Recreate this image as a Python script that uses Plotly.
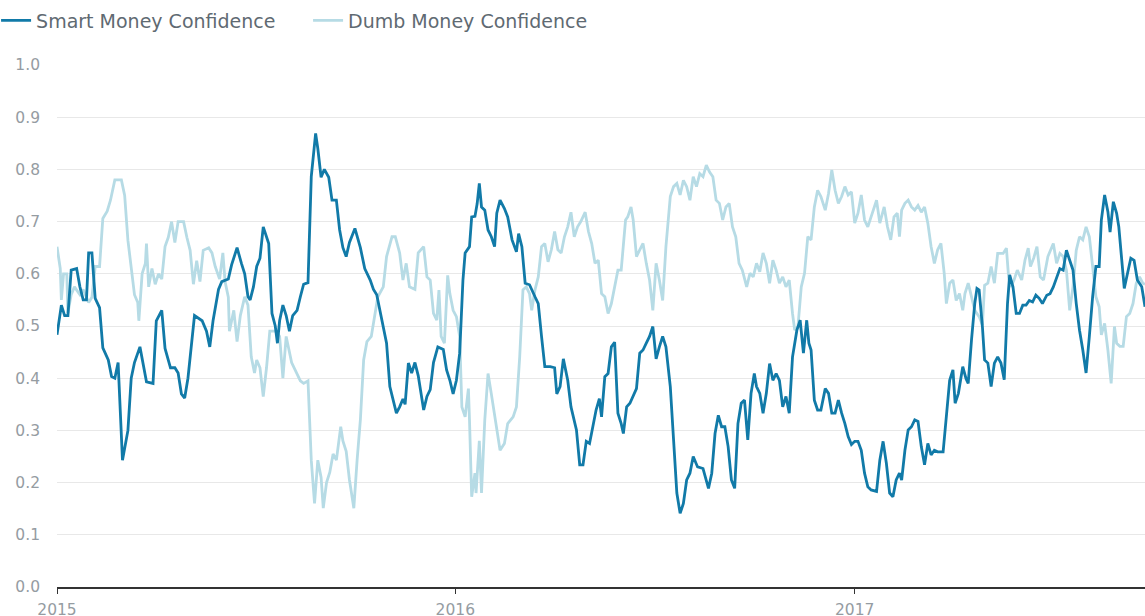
import pandas as pd
import plotly.graph_objects as go

START = pd.Timestamp("2015-01-01")

# Smart Money Confidence: days since 2015-01-01 and values
smart_days = [0, 4, 7, 10, 13, 18, 21, 24, 27, 29, 32, 35, 39, 42, 47, 50, 53, 56, 60, 65,
              68, 71, 76, 79, 82, 88, 91, 96, 99, 104, 108, 111, 114, 117, 120, 126, 133, 137, 140, 143,
              148, 151, 157, 160, 165, 169, 172, 175, 177, 180, 183, 186, 189, 194, 197, 200, 202, 204, 207, 210,
              213, 216, 220, 223, 226, 230, 232, 233, 237, 239, 242, 245, 249, 252, 256, 259, 262, 265, 268, 273,
              278, 282, 287, 290, 293, 297, 302, 305, 308, 311, 314, 317, 319, 322, 325, 328, 331, 336, 339, 342,
              345, 349, 354, 357, 360, 363, 366, 369, 372, 374, 378, 380, 383, 385, 387, 389, 392, 395, 398, 401,
              403, 406, 410, 413, 417, 421, 423, 426, 429, 433, 438, 441, 444, 447, 452, 456, 458, 461, 464, 468,
              471, 476, 479, 482, 485, 488, 491, 494, 497, 499, 502, 505, 508, 511, 514, 517, 519, 522, 525, 528,
              531, 534, 537, 540, 543, 546, 549, 552, 555, 558, 562, 565, 568, 571, 574, 577, 580, 583, 587, 592,
              597, 600, 603, 606, 609, 612, 615, 618, 621, 624, 627, 630, 633, 636, 639, 641, 644, 647, 650, 653,
              656, 659, 662, 665, 668, 671, 674, 678, 681, 684, 687, 689, 691, 694, 697, 700, 704, 707, 710, 713,
              716, 719, 722, 725, 728, 731, 734, 737, 740, 743, 746, 751, 754, 757, 760, 763, 766, 769, 772, 774,
              777, 780, 783, 786, 789, 792, 795, 798, 801, 804, 807, 812, 815, 818, 821, 823, 826, 830, 833, 835,
              838, 841, 843, 845, 848, 850, 853, 856, 859, 862, 865, 868, 871, 873, 876, 879, 882, 885, 888, 891,
              894, 897, 900, 903, 907, 910, 913, 916, 919, 922, 925, 928, 931, 934, 937, 940, 943, 946, 949, 952,
              955, 957, 960, 963, 965, 968, 971, 973, 975, 978, 981, 984, 987, 990, 994, 997]
smart_vals = [0.483, 0.54, 0.52, 0.52, 0.607, 0.61, 0.575, 0.55, 0.55, 0.64, 0.64, 0.553, 0.535, 0.458, 0.435, 0.403, 0.40, 0.43, 0.243, 0.30,
              0.40, 0.43, 0.46, 0.43, 0.393, 0.39, 0.51, 0.53, 0.457, 0.42, 0.42, 0.41, 0.37, 0.362, 0.40, 0.52, 0.51, 0.49, 0.46, 0.51,
              0.57, 0.585, 0.59, 0.617, 0.65, 0.62, 0.60, 0.556, 0.55, 0.575, 0.614, 0.63, 0.69, 0.658, 0.524, 0.50, 0.467, 0.51, 0.54, 0.52,
              0.49, 0.52, 0.53, 0.556, 0.58, 0.583, 0.722, 0.786, 0.869, 0.84, 0.785, 0.80, 0.785, 0.741, 0.741, 0.684, 0.65, 0.633, 0.66, 0.687,
              0.65, 0.61, 0.588, 0.57, 0.56, 0.52, 0.467, 0.384, 0.358, 0.333, 0.345, 0.36, 0.35, 0.429, 0.41, 0.43, 0.405, 0.339, 0.365, 0.378,
              0.43, 0.46, 0.455, 0.416, 0.396, 0.37, 0.396, 0.448, 0.588, 0.64, 0.652, 0.709, 0.71, 0.734, 0.773, 0.728, 0.722, 0.684, 0.671, 0.652,
              0.716, 0.741, 0.725, 0.709, 0.665, 0.642, 0.677, 0.652, 0.582, 0.579, 0.556, 0.543, 0.48, 0.422, 0.422, 0.42, 0.37, 0.384, 0.437, 0.396,
              0.345, 0.301, 0.234, 0.234, 0.279, 0.275, 0.307, 0.339, 0.361, 0.326, 0.403, 0.409, 0.46, 0.469, 0.333, 0.313, 0.294, 0.345, 0.352, 0.365,
              0.38, 0.448, 0.454, 0.467, 0.48, 0.499, 0.437, 0.46, 0.48, 0.46, 0.384, 0.282, 0.18, 0.141, 0.16, 0.205, 0.218, 0.25, 0.23, 0.227,
              0.189, 0.218, 0.294, 0.329, 0.307, 0.307, 0.269, 0.205, 0.189, 0.313, 0.352, 0.358, 0.282, 0.371, 0.409, 0.384, 0.371, 0.333, 0.371, 0.428,
              0.396, 0.409, 0.396, 0.345, 0.365, 0.333, 0.441, 0.492, 0.511, 0.448, 0.511, 0.467, 0.454, 0.358, 0.339, 0.339, 0.38, 0.371, 0.333, 0.333,
              0.358, 0.333, 0.313, 0.288, 0.273, 0.279, 0.279, 0.262, 0.218, 0.192, 0.186, 0.183, 0.243, 0.279, 0.237, 0.18, 0.173, 0.205, 0.218, 0.205,
              0.262, 0.301, 0.307, 0.32, 0.317, 0.269, 0.234, 0.275, 0.253, 0.262, 0.259, 0.259, 0.333, 0.396, 0.416, 0.352, 0.371, 0.422, 0.399, 0.39,
              0.473, 0.543, 0.572, 0.569, 0.499, 0.435, 0.429, 0.384, 0.429, 0.441, 0.429, 0.397, 0.543, 0.598, 0.575, 0.524, 0.524, 0.54, 0.54, 0.549,
              0.546, 0.559, 0.553, 0.543, 0.559, 0.562, 0.575, 0.591, 0.61, 0.607, 0.645, 0.626, 0.607, 0.543, 0.492, 0.454, 0.41, 0.48, 0.556, 0.614,
              0.614, 0.703, 0.751, 0.719, 0.68, 0.738, 0.716, 0.69, 0.639, 0.572, 0.601, 0.63, 0.626, 0.588, 0.575, 0.537]

# Dumb Money Confidence: days since 2015-01-01 and values
dumb_days = [0, 3, 4, 6, 9, 10, 13, 16, 21, 24, 29, 32, 35, 39, 42, 46, 49, 51, 53, 59,
             62, 65, 68, 71, 74, 75, 78, 81, 82, 84, 87, 90, 93, 96, 99, 102, 105, 108, 111, 116,
             119, 122, 125, 128, 131, 134, 139, 142, 145, 149, 152, 154, 157, 158, 162, 165, 168, 172, 175, 178,
             181, 183, 186, 189, 192, 195, 201, 204, 207, 210, 215, 220, 223, 226, 230, 233, 236, 239, 242, 244,
             247, 250, 253, 256, 260, 262, 265, 268, 272, 275, 278, 281, 284, 288, 291, 294, 299, 302, 307, 310,
             314, 317, 320, 323, 328, 331, 336, 339, 342, 345, 348, 350, 352, 355, 358, 360, 363, 366, 369, 371,
             374, 377, 378, 380, 383, 384, 387, 389, 392, 395, 398, 401, 406, 410, 413, 418, 421, 424, 427, 430,
             433, 435, 438, 441, 444, 447, 450, 453, 456, 459, 462, 465, 468, 471, 474, 477, 480, 484, 487, 490,
             493, 496, 499, 502, 505, 508, 511, 514, 517, 519, 521, 523, 526, 528, 531, 534, 537, 540, 543, 546,
             549, 552, 555, 558, 562, 565, 568, 571, 574, 577, 580, 583, 586, 589, 592, 595, 598, 601, 604, 607,
             610, 613, 616, 619, 622, 625, 628, 632, 635, 638, 641, 644, 647, 650, 653, 656, 659, 662, 665, 668,
             671, 674, 676, 679, 682, 685, 688, 691, 694, 697, 700, 704, 707, 710, 713, 716, 719, 722, 725, 728,
             731, 734, 737, 740, 743, 746, 751, 754, 758, 761, 764, 767, 770, 772, 774, 777, 780, 783, 786, 789,
             792, 795, 798, 801, 804, 807, 810, 813, 815, 818, 821, 824, 827, 830, 832, 835, 838, 841, 845, 848,
             850, 853, 856, 859, 862, 867, 870, 872, 874, 877, 880, 884, 887, 890, 892, 895, 898, 901, 904, 908,
             913, 916, 919, 922, 925, 928, 931, 934, 937, 940, 943, 946, 949, 952, 955, 957, 960, 963, 966, 969,
             971, 974, 977, 980, 983, 986, 989, 992, 995, 997]
dumb_vals = [0.652, 0.61, 0.55, 0.60, 0.60, 0.525, 0.56, 0.575, 0.56, 0.57, 0.545, 0.555, 0.614, 0.614, 0.706, 0.72, 0.741, 0.76, 0.78, 0.78,
             0.75, 0.664, 0.614, 0.56, 0.545, 0.51, 0.60, 0.62, 0.658, 0.575, 0.61, 0.58, 0.60, 0.59, 0.652, 0.67, 0.70, 0.66, 0.70, 0.70,
             0.67, 0.645, 0.58, 0.625, 0.585, 0.645, 0.65, 0.64, 0.614, 0.59, 0.64, 0.585, 0.555, 0.49, 0.53, 0.47, 0.52, 0.556, 0.54, 0.441,
             0.41, 0.435, 0.42, 0.365, 0.42, 0.49, 0.49, 0.48, 0.40, 0.48, 0.43, 0.41, 0.395, 0.39, 0.395, 0.243, 0.16, 0.243, 0.21, 0.151,
             0.20, 0.22, 0.255, 0.243, 0.307, 0.28, 0.26, 0.205, 0.151, 0.243, 0.32, 0.435, 0.47, 0.48, 0.52, 0.556, 0.575, 0.633, 0.671, 0.671,
             0.64, 0.588, 0.62, 0.575, 0.57, 0.64, 0.652, 0.594, 0.588, 0.524, 0.511, 0.569, 0.48, 0.467, 0.597, 0.562, 0.53, 0.518, 0.48, 0.345,
             0.326, 0.38, 0.32, 0.173, 0.218, 0.18, 0.28, 0.18, 0.32, 0.409, 0.37, 0.326, 0.262, 0.275, 0.313, 0.326, 0.345, 0.441, 0.569, 0.575,
             0.562, 0.53, 0.569, 0.594, 0.652, 0.658, 0.623, 0.646, 0.681, 0.646, 0.64, 0.671, 0.69, 0.718, 0.671, 0.69, 0.70, 0.718, 0.681, 0.658,
             0.62, 0.626, 0.562, 0.556, 0.524, 0.543, 0.575, 0.607, 0.607, 0.665, 0.703, 0.709, 0.728, 0.703, 0.633, 0.646, 0.658, 0.62, 0.588, 0.53,
             0.62, 0.588, 0.549, 0.652, 0.748, 0.767, 0.773, 0.751, 0.779, 0.767, 0.741, 0.786, 0.767, 0.792, 0.786, 0.808, 0.795, 0.786, 0.741, 0.735,
             0.703, 0.728, 0.735, 0.69, 0.671, 0.62, 0.607, 0.575, 0.601, 0.594, 0.62, 0.604, 0.64, 0.62, 0.582, 0.626, 0.607, 0.582, 0.594, 0.575,
             0.588, 0.524, 0.492, 0.499, 0.575, 0.601, 0.671, 0.665, 0.728, 0.76, 0.748, 0.722, 0.754, 0.799, 0.76, 0.735, 0.748, 0.767, 0.751, 0.757,
             0.697, 0.716, 0.751, 0.703, 0.69, 0.709, 0.741, 0.697, 0.728, 0.69, 0.665, 0.709, 0.716, 0.671, 0.722, 0.735, 0.741, 0.728, 0.722, 0.731,
             0.718, 0.728, 0.697, 0.652, 0.62, 0.646, 0.658, 0.601, 0.543, 0.582, 0.588, 0.549, 0.562, 0.53, 0.562, 0.582, 0.556, 0.53, 0.518, 0.502,
             0.578, 0.582, 0.614, 0.582, 0.639, 0.639, 0.649, 0.594, 0.575, 0.588, 0.607, 0.588, 0.626, 0.649, 0.614, 0.63, 0.652, 0.594, 0.588, 0.633,
             0.658, 0.62, 0.639, 0.633, 0.607, 0.53, 0.575, 0.645, 0.671, 0.665, 0.69, 0.671, 0.614, 0.556, 0.537, 0.483, 0.505, 0.454, 0.39, 0.499,
             0.467, 0.461, 0.461, 0.518, 0.524, 0.543, 0.582, 0.594, 0.582, 0.58]

y_ticks = [0.0, 0.1, 0.2, 0.3, 0.4, 0.5, 0.6, 0.7, 0.8, 0.9, 1.0]
x_tick_labels = ["2015", "2016", "2017"]
x_end_day = 997

smart_dates = [START + pd.Timedelta(days=d) for d in smart_days]
dumb_dates = [START + pd.Timedelta(days=d) for d in dumb_days]
x_tick_vals = [pd.Timestamp(f"{t}-01-01") for t in x_tick_labels]

SMART_COLOR = "#117aa8"
DUMB_COLOR = "#b6dbe5"
FONT = "DejaVu Sans, sans-serif"

fig = go.Figure()
fig.add_trace(go.Scatter(x=dumb_dates, y=dumb_vals, mode="lines", name="Dumb Money Confidence",
                         line=dict(color=DUMB_COLOR, width=2.8), legendrank=2))
fig.add_trace(go.Scatter(x=smart_dates, y=smart_vals, mode="lines", name="Smart Money Confidence",
                         line=dict(color=SMART_COLOR, width=2.8), legendrank=1))

fig.update_layout(
    width=1145, height=616,
    margin=dict(l=57, r=0, t=65, b=29, autoexpand=False),
    paper_bgcolor="white", plot_bgcolor="white",
    font=dict(family=FONT, color="#959ca2"),
    showlegend=True,
    legend=dict(orientation="h", x=-0.056, y=1.1216,
                xanchor="left", yanchor="top", itemwidth=30, entrywidth=267,
                font=dict(family=FONT, size=19, color="#5f6a72"), traceorder="normal"),
    xaxis=dict(range=[START, START + pd.Timedelta(days=x_end_day)],
               tickvals=x_tick_vals, ticktext=x_tick_labels, automargin=False,
               showgrid=False, showline=True, linecolor="#333333", linewidth=1.5,
               ticks="outside", ticklen=5, tickcolor="#333333", ticklabelstandoff=3,
               tickfont=dict(size=15.5, color="#959ca2"), zeroline=False),
    yaxis=dict(range=[0, 1.0], tickvals=y_ticks, ticktext=[f"{v:.1f}" for v in y_ticks],
               automargin=False,
               showgrid=True, gridcolor="#e8e8e8", gridwidth=1, zeroline=False,
               showline=False, ticks="", ticklabelstandoff=16,
               tickfont=dict(size=15.5, color="#959ca2")),
)

fig.write_html("out.html", config={"displayModeBar": False},
               post_script="document.body.style.margin='0';document.body.style.overflow='hidden';")
